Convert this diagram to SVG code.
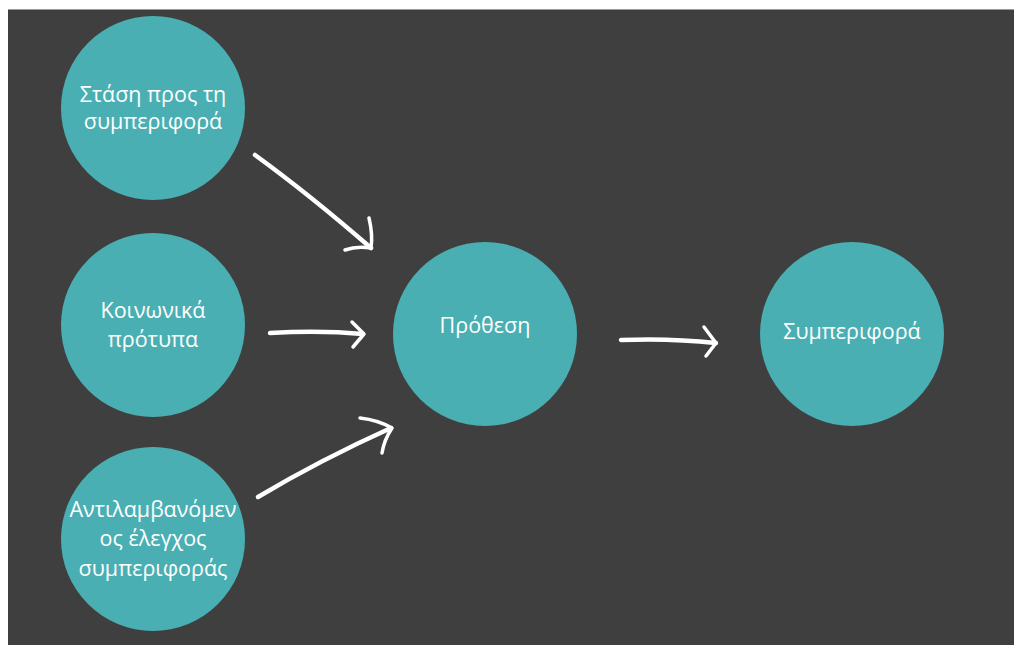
<svg xmlns="http://www.w3.org/2000/svg" width="1014" height="645" viewBox="0 0 1014 645">
<style>
.node{fill:#4aafb3}
.t{font-family:"Open Sans","Noto Sans","DejaVu Sans",sans-serif;font-size:21.5px;fill:#ffffff;text-anchor:middle}
.a{fill:none;stroke:#ffffff;stroke-width:4.5;stroke-linecap:round;stroke-linejoin:round}
.h{fill:none;stroke:#ffffff;stroke-width:3.5;stroke-linecap:round;stroke-linejoin:round}
</style>
<rect x="0" y="0" width="1014" height="645" fill="#ffffff"/>
<rect x="8" y="9" width="1006" height="1" fill="#9a9a9a"/>
<rect x="8" y="10" width="1006" height="635" fill="#3f3f3f"/>
<g id="n1"><circle class="node" cx="153" cy="108" r="92"/><text class="t" x="153" y="102">Στάση προς τη</text><text class="t" x="153" y="129">συμπεριφορά</text></g>
<g id="n2"><circle class="node" cx="153" cy="325" r="92"/><text class="t" x="153" y="318">Κοινωνικά</text><text class="t" x="153" y="347">πρότυπα</text></g>
<g id="n3"><circle class="node" cx="153" cy="539" r="92"/><text class="t" x="153" y="517">Αντιλαμβανόμεν</text><text class="t" x="153" y="546">ος έλεγχος</text><text class="t" x="153" y="576">συμπεριφοράς</text></g>
<g id="n4"><circle class="node" cx="485" cy="334" r="92"/><text class="t" x="485" y="333">Πρόθεση</text></g>
<g id="n5"><circle class="node" cx="852" cy="334" r="92"/><text class="t" x="852" y="339">Συμπεριφορά</text></g>
<g id="connectors">
<path class="a" d="M255,155 Q310,195 371,248"/>
<path class="h" d="M369,218 Q373,235 371,248 Q356,246 345,250"/>
<path class="a" d="M270,333 Q320,330 363,334"/>
<path class="h" d="M352,322 L364,334 L353,347"/>
<path class="a" d="M258,497 Q320,460 391,428"/>
<path class="h" d="M360,418 Q378,420 392,428 Q384,440 382,453"/>
<path class="a" d="M621,340 Q670,338 716,343"/>
<path class="h" d="M704,327 L716,343 L706,356"/>
</g>
</svg>
